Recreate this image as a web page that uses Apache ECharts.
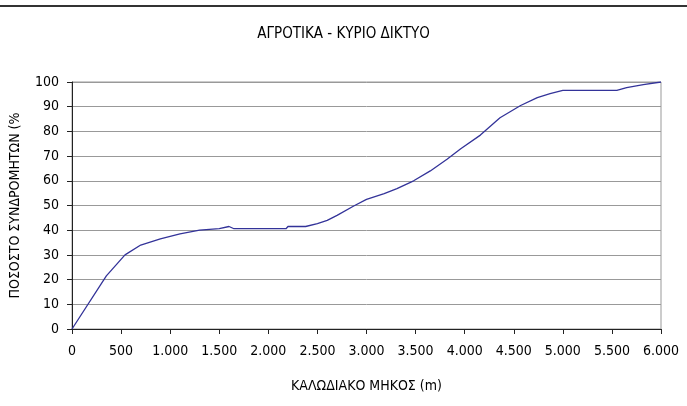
<!DOCTYPE html>
<html>
<head>
<meta charset="utf-8">
<script src="https://cdn.jsdelivr.net/npm/echarts@6/dist/echarts.min.js"></script>
<style>
    html, body { margin: 0; padding: 0; background: #ffffff; }
    #chart { width: 687px; height: 406px; }
</style>
</head>
<body>
<div id="chart"></div>
<script>
    // μήκος καλωδίου (m) και ποσοστό συνδρομητών (%)
    var lengths = [0, 350, 540, 700, 900, 1100, 1300, 1500, 1600, 1650, 2180, 2200, 2380, 2500, 2600, 2700, 2870, 3000, 3180, 3310, 3480, 3650, 3820, 3960, 4160, 4360, 4570, 4740, 4870, 5000, 5550, 5650, 5820, 6000];
    var percents = [0, 21.5, 30, 34, 36.5, 38.5, 40, 40.6, 41.5, 40.6, 40.6, 41.5, 41.5, 42.7, 44, 46, 49.8, 52.5, 54.8, 56.8, 60, 64, 68.7, 73, 78.5, 85.5, 90.5, 93.7, 95.3, 96.6, 96.6, 97.7, 98.9, 100];

    var titleText = 'ΑΓΡΟΤΙΚΑ - ΚΥΡΙΟ ΔΙΚΤΥΟ';
    var xName = 'ΚΑΛΩΔΙΑΚΟ ΜΗΚΟΣ (m)';
    var yName = 'ΠΟΣΟΣΤΟ ΣΥΝΔΡΟΜΗΤΩΝ (%';

    var font = "'Liberation Sans Narrow', 'DejaVu Sans Condensed', sans-serif";

    var points = [];
    for (var i = 0; i < lengths.length; i++) {
        points.push([lengths[i], percents[i]]);
    }

    var myChart = echarts.init(document.getElementById('chart'), null, {renderer: 'canvas'});
    myChart.setOption({
        animation: false,
        backgroundColor: '#ffffff',
        textStyle: { fontFamily: font },
        title: {
            text: titleText,
            left: 'center',
            top: 22,
            textStyle: {
                color: '#000',
                fontWeight: 'normal',
                fontSize: 15,
                fontFamily: font
            }
        },
        graphic: [{
            type: 'line',
            shape: { x1: 0, y1: 6, x2: 687, y2: 6 },
            style: { stroke: '#333', lineWidth: 2 }
        }],
        grid: {
            left: 71,
            right: 26,
            top: 82,
            bottom: 77,
            show: true,
            borderColor: '#999',
            borderWidth: 1
        },
        xAxis: {
            type: 'value',
            min: 0,
            max: 6000,
            interval: 500,
            name: xName,
            nameLocation: 'middle',
            nameGap: 50,
            nameTextStyle: { color: '#000', fontSize: 14, fontFamily: font },
            axisLine: { lineStyle: { color: '#222', width: 1 } },
            axisTick: { show: true, length: 5, inside: false, lineStyle: { color: '#222' } },
            axisLabel: {
                color: '#000',
                fontSize: 14,
                margin: 15,
                formatter: function (v) {
                    return v >= 1000 ? (v / 1000).toFixed(3) : String(v);
                }
            },
            splitLine: { show: false }
        },
        yAxis: {
            type: 'value',
            min: 0,
            max: 100,
            interval: 10,
            name: yName,
            nameLocation: 'middle',
            nameRotate: 90,
            nameGap: 50,
            nameTextStyle: { color: '#000', fontSize: 14, fontFamily: font },
            axisLine: { show: true, lineStyle: { color: '#222', width: 1 } },
            axisTick: { show: true, length: 5, lineStyle: { color: '#222' } },
            axisLabel: { color: '#000', fontSize: 14, margin: 13 },
            splitLine: { show: true, lineStyle: { color: '#999', width: 1 } }
        },
        series: [{
            type: 'line',
            data: points,
            symbol: 'none',
            smooth: false,
            lineStyle: { color: '#333399', width: 1.3 }
        }]
    });
</script>
</body>
</html>
